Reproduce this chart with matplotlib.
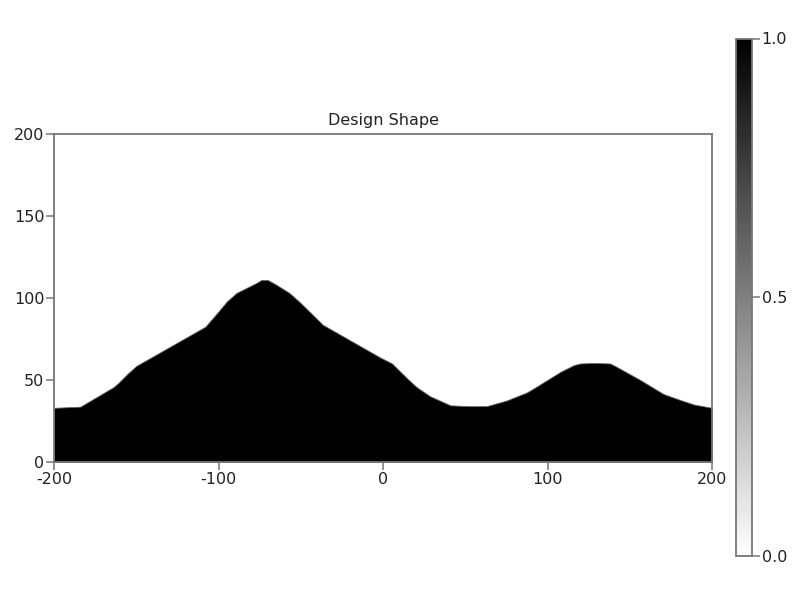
from matplotlib import pyplot as plt
from matplotlib.cm import ScalarMappable
from matplotlib.colors import Normalize
import numpy as np

# outline of the design shape
shape_x = [-200, -184, -164, -161, -155, -150, -108, -101, -95, -89, -82, -77, -74, -70, -65, -57, -51,
           -36.5, -2, 5.5, 10.5, 15.6, 20.6, 28.7, 41, 52, 63, 75, 87.5, 93.5, 108, 116, 120, 129, 138,
           141, 156.3, 170.5, 180.6, 189, 200]
shape_y = [33, 33.7, 45.5, 48, 54, 58.5, 82.4, 90.5, 97.7, 103, 106.5, 109, 110.8, 110.8, 108, 103, 97.7,
           83.5, 63.8, 60, 55, 50, 45.5, 40, 34.5, 34, 34, 37.4, 42.4, 46, 55, 59, 60, 60.3, 60,
           58.5, 50, 41.4, 37.8, 35, 33]
x_ticks = [-200, -100, 0, 100, 200]
y_ticks = [0, 50, 100, 150, 200]
cbar_ticks = [0.0, 0.5, 1.0]

plt.rcParams['font.family'] = 'DejaVu Sans'
plt.rcParams['axes.unicode_minus'] = False

W, H = 800, 600
EDGE = '#777777'
TEXT = '#222222'

fig = plt.figure(figsize=(8, 6), dpi=100)
ax = fig.add_axes([54/W, 1-462/H, 658/W, 328.5/H])
ax.fill_between(shape_x, 0, shape_y, facecolor='black', edgecolor='#666666', linewidth=0.6)
ax.set_xlim(-200, 200)
ax.set_ylim(0, 200)
ax.set_xticks(x_ticks)
ax.set_yticks(y_ticks)
ax.tick_params(length=5.5, width=1.1, color=EDGE, labelsize=11.5, labelcolor=TEXT, pad=1.5)
for s in ax.spines.values():
    s.set_color(EDGE)
    s.set_linewidth(1.3)
    s.set_zorder(5)
ax.set_title('Design Shape', fontsize=11.5, color=TEXT, pad=6)

cax = fig.add_axes([736/W, 1-556/H, 16/W, 517.5/H])
cbar = fig.colorbar(ScalarMappable(Normalize(0, 1), 'gray_r'), cax=cax)
cbar.set_ticks(cbar_ticks)
cbar.ax.set_yticklabels(['0.0', '0.5', '1.0'])
cax.tick_params(length=6, width=1.1, color=EDGE, labelsize=11.5, labelcolor=TEXT, pad=1)
cbar.outline.set_edgecolor(EDGE)
cbar.outline.set_linewidth(1.3)

fig.savefig('out.png', dpi=100)
